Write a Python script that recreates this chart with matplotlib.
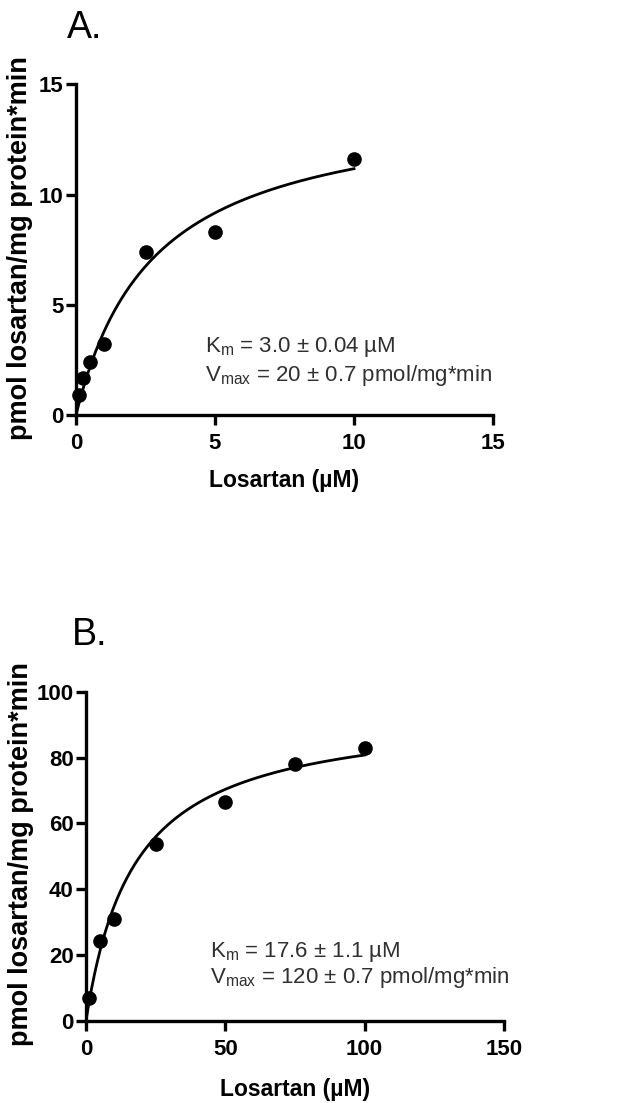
import numpy as np
import matplotlib
matplotlib.use("Agg")
import matplotlib.pyplot as plt

plt.rcParams['font.family'] = ['Liberation Sans', 'DejaVu Sans']
plt.rcParams['mathtext.fontset'] = 'custom'
plt.rcParams['mathtext.rm'] = 'Liberation Sans'
plt.rcParams['mathtext.it'] = 'Liberation Sans'

# Panel A: low-concentration range
conc_a = [0.1, 0.25, 0.5, 1.0, 2.5, 5.0, 10.0]
rate_a = [0.9, 1.7, 2.4, 3.2, 7.4, 8.3, 11.6]
fit_vmax_a, fit_km_a = 14.3, 2.8
ticks_a_x = [0, 5, 10, 15]
ticks_a_y = [0, 5, 10, 15]
text_a = [r'$\mathrm{K_m}$ = 3.0 ± 0.04 µM',
          r'$\mathrm{V_{max}}$ = 20 ± 0.7 pmol/mg*min']

# Panel B: high-concentration range
conc_b = [1, 5, 10, 25, 50, 75, 100]
rate_b = [7.0, 24.2, 30.8, 53.6, 66.6, 77.9, 83.0]
fit_vmax_b, fit_km_b = 94.8, 17.4
ticks_b_x = [0, 50, 100, 150]
ticks_b_y = [0, 20, 40, 60, 80, 100]
text_b = [r'$\mathrm{K_m}$ = 17.6 ± 1.1 µM',
          r'$\mathrm{V_{max}}$ = 120 ± 0.7 pmol/mg*min']

W, H = 619, 1103
fig = plt.figure(figsize=(W / 100, H / 100), dpi=100)


def px_axes(left, right, top, bottom):
    return fig.add_axes([left / W, 1 - bottom / H, (right - left) / W, (bottom - top) / H])


def draw_panel(ax, x, y, vmax, km, xt, yt, lines, text_pos, ylab_x, xlab_y):
    xs = np.linspace(0, max(x), 300)
    ax.plot(xs, vmax * xs / (km + xs), color='black', lw=2.0, zorder=2)
    ax.plot(x, y, 'o', color='black', ms=9.5, zorder=3, clip_on=False)
    ax.set_xlim(xt[0], xt[-1])
    ax.set_ylim(yt[0], yt[-1])
    ax.set_xticks(xt)
    ax.set_yticks(yt)
    for s in ('top', 'right'):
        ax.spines[s].set_visible(False)
    for s in ('left', 'bottom'):
        ax.spines[s].set_linewidth(2.4)
    ax.tick_params(direction='out', length=7, width=2.4, labelsize=16)
    ax.tick_params(axis='x', pad=6)
    ax.tick_params(axis='y', pad=2)
    for lab in ax.get_xticklabels() + ax.get_yticklabels():
        lab.set_fontweight('bold')
    ax.set_xlabel('Losartan (µM)', fontsize=16.5, fontweight='bold', va='center')
    ax.set_ylabel('pmol losartan/mg protein*min', fontsize=19.5, fontweight='bold', va='center')
    ax.xaxis.set_label_coords(0.5, xlab_y)
    ax.yaxis.set_label_coords(ylab_x, 0.505)
    (tx, ty1, ty2) = text_pos
    ax.text(tx, ty1, lines[0], fontsize=16, color='#303030', va='baseline', ha='left')
    ax.text(tx, ty2, lines[1], fontsize=16, color='#303030', va='baseline', ha='left')


ax_a = px_axes(76, 493, 84.3, 415)
draw_panel(ax_a, conc_a, rate_a, fit_vmax_a, fit_km_a, ticks_a_x, ticks_a_y,
           text_a, (4.64, 2.86, 1.54), -0.135, -0.197)

ax_b = px_axes(86, 504, 691.7, 1020.7)
draw_panel(ax_b, conc_b, rate_b, fit_vmax_b, fit_km_b, ticks_b_x, ticks_b_y,
           text_b, (44.5, 19.5, 11.4), -0.155, -0.208)

fig.text(67 / W, 1 - 38 / H, 'A.', fontsize=27, ha='left', va='baseline')
fig.text(72 / W, 1 - 645 / H, 'B.', fontsize=27, ha='left', va='baseline')

fig.savefig('out.png', dpi=100, facecolor='white')
